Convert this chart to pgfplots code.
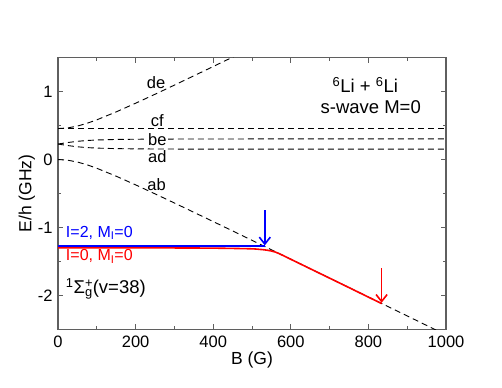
\documentclass[border=0pt]{standalone}
\usepackage{fontspec}
\setmainfont{Liberation Sans}
\usepackage{pgfplots}
\pgfplotsset{compat=1.18}
\usetikzlibrary{arrows.meta}
\definecolor{framegray}{RGB}{95,95,95}
\begin{document}
\fontsize{16}{19}\selectfont
\begin{tikzpicture}
\begin{axis}[
  scale only axis, width=388pt, height=271.6pt,
  xmin=0,xmax=1000,ymin=-2.5,ymax=1.5,
  xtick={0,200,...,1000}, minor xtick={100,300,...,900},
  ytick={-2,-1,0,1}, minor ytick={-2.5,-1.5,-0.5,0.5,1.5},
  tick align=inside, major tick length=5pt, minor tick length=3pt,
  axis line style={framegray, line width=1.3pt},
  every tick/.style={framegray, line width=0.9pt},
  tick label style={font=\fontsize{16.5}{19}\selectfont},
  /pgf/number format/assume math mode=true,
  /pgf/number format/1000 sep={},
  xlabel={B (G)}, ylabel={E/h (GHz)},
  label style={font=\fontsize{17.5}{20}\selectfont},
  xlabel style={yshift=7pt},
  ylabel style={yshift=-8pt},
  xticklabel style={yshift=-1pt},
]
\coordinate (ll) at (rel axis cs:0,0);
\coordinate (ur) at (rel axis cs:1,1);
% dashed atomic thresholds
\addplot[black, line width=0.9pt, dash pattern=on 6pt off 4pt] coordinates {
(0,0) (25,-0.00946) (50,-0.03654) (75,-0.07762) (100,-0.12823) (150,-0.24533)
(200,-0.37281) (250,-0.50507) (300,-0.63986) (400,-0.91336) (500,-1.18953)
(600,-1.46705) (700,-1.74535) (800,-2.02413) (900,-2.30324) (1000,-2.58258)};
\addplot[black, line width=0.9pt, dash pattern=on 6pt off 4pt] coordinates {
(0,0.2282) (25,0.20578) (50,0.18794) (75,0.17592) (100,0.16839) (150,0.16067)
(200,0.15726) (250,0.15552) (300,0.15453) (400,0.15350) (500,0.15302)
(600,0.15275) (700,0.15258) (800,0.15248) (900,0.15241) (1000,0.15236)};
\addplot[black, line width=0.9pt, dash pattern=on 6pt off 4pt] coordinates {
(0,0.2282) (25,0.25062) (50,0.26846) (75,0.28048) (100,0.28801) (150,0.29573)
(200,0.29914) (250,0.30088) (300,0.30187) (400,0.30290) (500,0.30338)
(600,0.30365) (700,0.30382) (800,0.30392) (900,0.30399) (1000,0.30404)};
\addplot[black, line width=0.9pt, dash pattern=on 6pt off 4pt] coordinates {
(0,0.4564) (1000,0.4564)};
\addplot[black, line width=0.9pt, dash pattern=on 6pt off 4pt] coordinates {
(0,0.4564) (25,0.46586) (50,0.49294) (75,0.53401) (100,0.58463) (150,0.70173)
(200,0.82921) (250,0.96146) (300,1.09625) (400,1.36976) (500,1.64593)};
% bound states
\addplot[blue, line width=1.6pt] coordinates {(0,-1.272) (533,-1.272)};
\addplot[red, line width=1.6pt, smooth] coordinates {
(0,-1.300) (300,-1.302) (400,-1.305) (450,-1.309) (500,-1.315) (520,-1.323)
(540,-1.336) (560,-1.362) (580,-1.413) (600,-1.469) (650,-1.608) (700,-1.747)
(750,-1.886) (800,-2.026) (834,-2.121)};
% arrows
\addplot[blue, line width=1.6pt, -{Straight Barb[length=7pt,width=11pt]}] coordinates {(533,-0.75) (533,-1.265)};
\addplot[red, line width=1.6pt, -{Straight Barb[length=7pt,width=11pt]}] coordinates {(834,-1.60) (834,-2.11)};
% labels
\node[font=\fontsize{16.5}{19}\selectfont] at (axis cs:253,1.13) {de};
\node[font=\fontsize{16.5}{19}\selectfont] at (axis cs:256,0.57) {cf};
\node[font=\fontsize{16.5}{19}\selectfont, fill=white, inner sep=1pt] at (axis cs:256,0.30) {be};
\node[font=\fontsize{16.5}{19}\selectfont] at (axis cs:256,0.04) {ad};
\node[font=\fontsize{16.5}{19}\selectfont] at (axis cs:254,-0.37) {ab};
\node[font=\fontsize{18.5}{21}\selectfont] at (axis cs:792,1.10) {\textsuperscript{6}Li + \textsuperscript{6}Li};
\node[font=\fontsize{18.5}{21}\selectfont] at (axis cs:806,0.77) {s-wave M=0};
\node[anchor=west, blue, font=\fontsize{16}{19}\selectfont, inner sep=0pt] at (axis cs:20,-1.08) {I=2, M\textsubscript{I}=0};
\node[anchor=west, red, font=\fontsize{16}{19}\selectfont, inner sep=0pt] at (axis cs:20,-1.43) {I=0, M\textsubscript{I}=0};
\node[anchor=west, font=\fontsize{18.5}{21}\selectfont, inner sep=0pt] at (axis cs:20,-1.90) {\textsuperscript{1}Σ\rlap{\textsuperscript{+}}\textsubscript{g}(v=38)};
\end{axis}
\pgfresetboundingbox
\useasboundingbox ([shift={(-58pt,-58.7pt)}]ll) rectangle ([shift={(56pt,57.7pt)}]ur);
\end{tikzpicture}
\end{document}
